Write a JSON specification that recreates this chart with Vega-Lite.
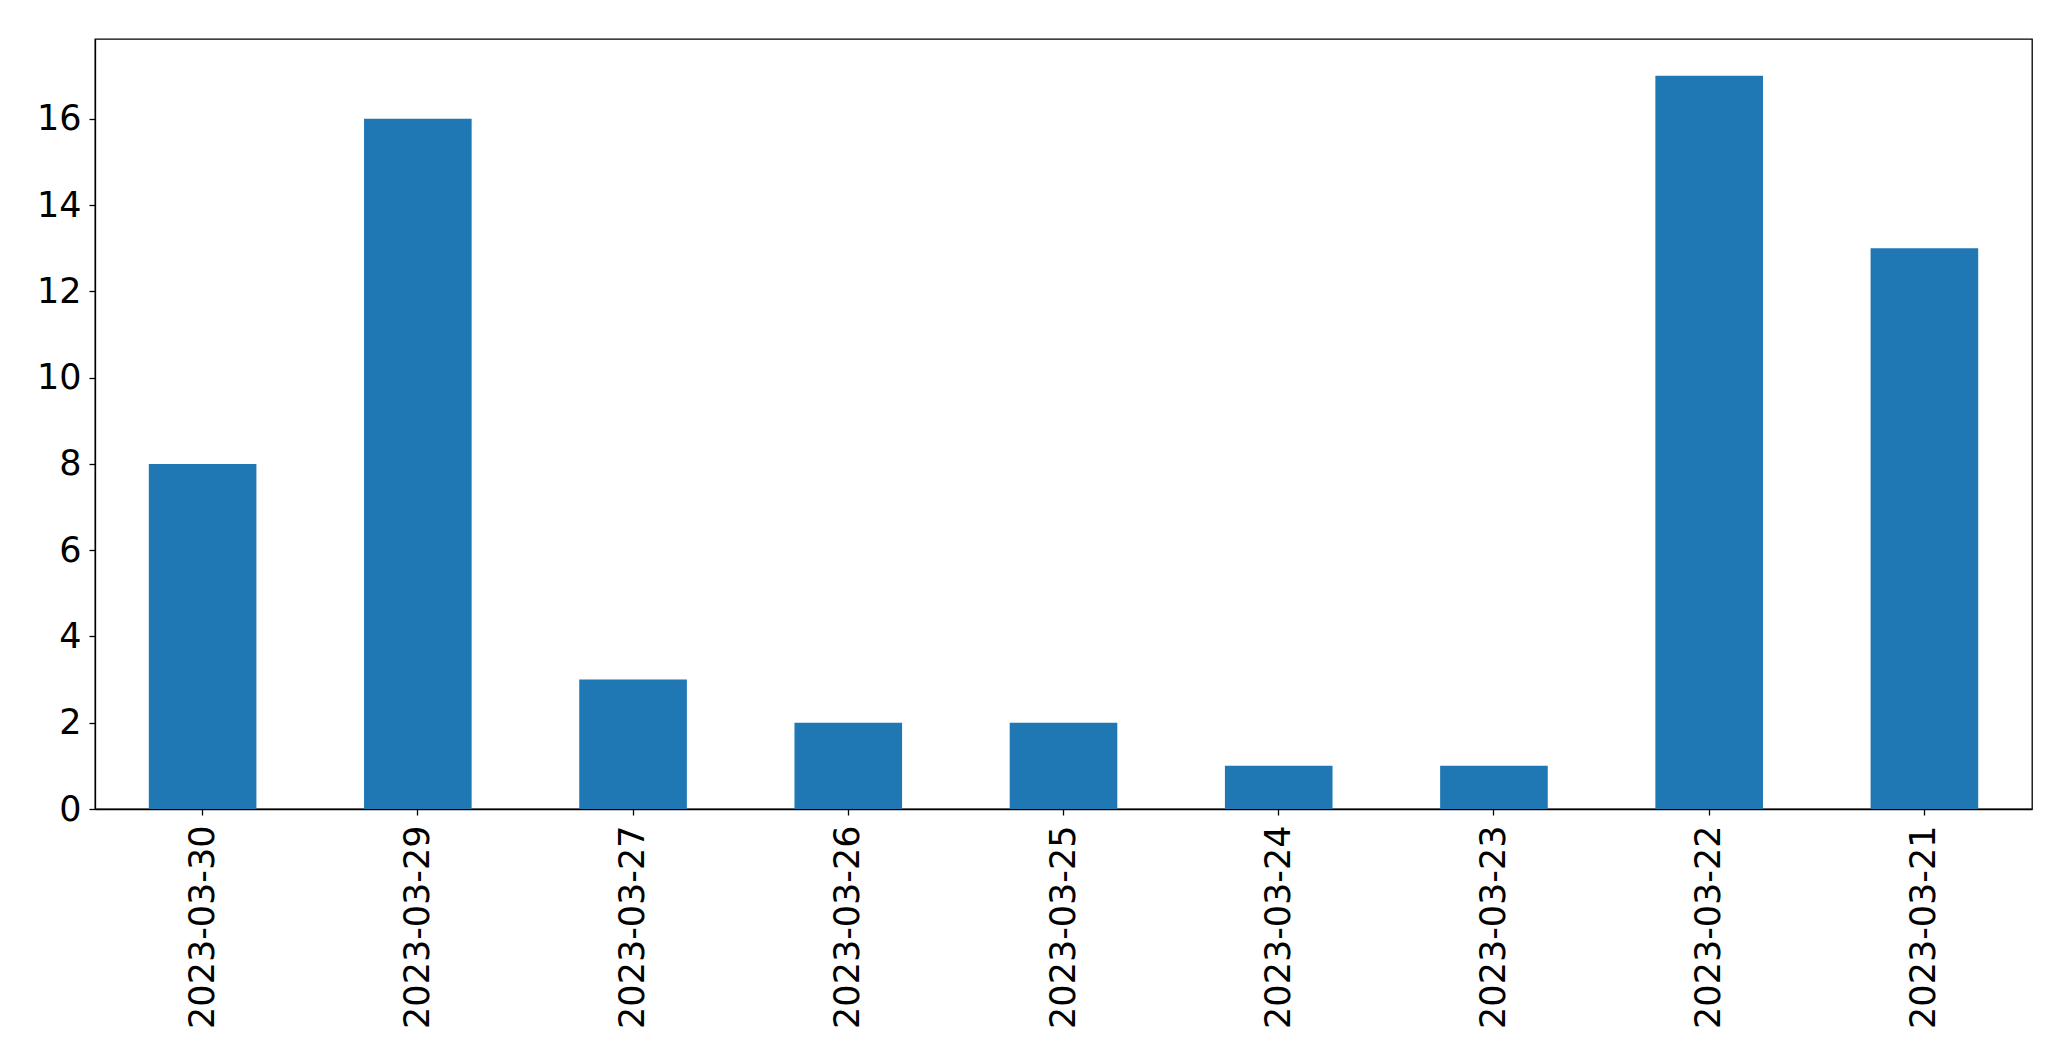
{
  "$schema": "https://vega.github.io/schema/vega-lite/v6.json",
  "autosize": "none",
  "padding": {"left": 95, "top": 39, "right": 39, "bottom": 252},
  "width": 1937,
  "height": 770,
  "background": "white",
  "data": {"values": [
    {"date": "2023-03-30", "count": 8},
    {"date": "2023-03-29", "count": 16},
    {"date": "2023-03-27", "count": 3},
    {"date": "2023-03-26", "count": 2},
    {"date": "2023-03-25", "count": 2},
    {"date": "2023-03-24", "count": 1},
    {"date": "2023-03-23", "count": 1},
    {"date": "2023-03-22", "count": 17},
    {"date": "2023-03-21", "count": 13}
  ]},
  "mark": {"type": "bar", "color": "#1f77b4"},
  "encoding": {
    "x": {
      "field": "date", "type": "nominal", "sort": null,
      "scale": {"paddingInner": 0.5, "paddingOuter": 0.25},
      "axis": {"title": null, "labelAngle": -90, "labelLimit": 0, "labelFont": "DejaVu Sans", "labelFontSize": 35, "labelColor": "black", "labelPadding": 10, "tickSize": 6, "tickColor": "black", "tickWidth": 1.3, "domainColor": "black", "domainWidth": 1.3, "grid": false}
    },
    "y": {
      "field": "count", "type": "quantitative",
      "scale": {"domain": [0, 17.85], "nice": false, "zero": true},
      "axis": {"title": null, "values": [0, 2, 4, 6, 8, 10, 12, 14, 16], "labelFont": "DejaVu Sans", "labelFontSize": 35, "labelColor": "black", "labelPadding": 8, "tickSize": 6, "tickColor": "black", "tickWidth": 1.3, "domainColor": "black", "domainWidth": 1.3, "grid": false}
    }
  },
  "config": {"view": {"stroke": "black", "strokeWidth": 1.3}}
}
